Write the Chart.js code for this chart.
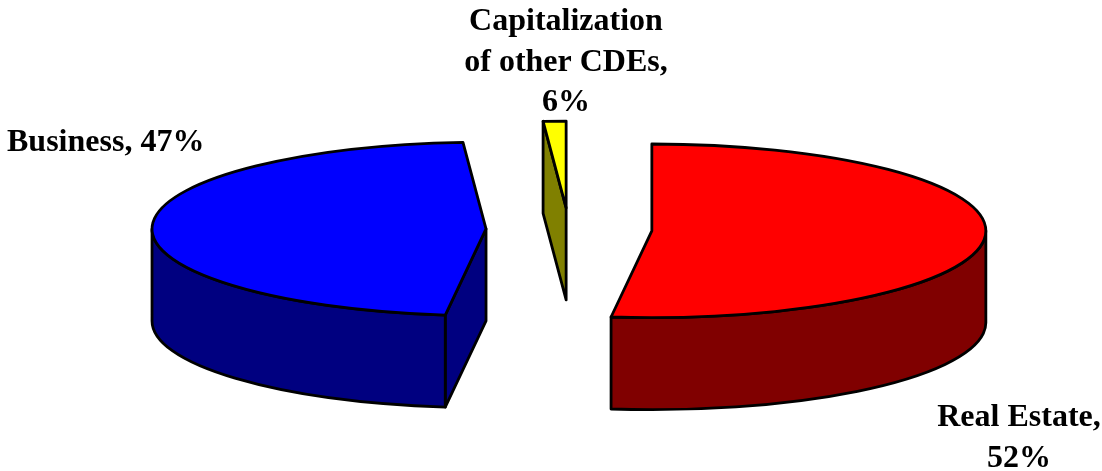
<!DOCTYPE html>
<html>
<head>
<meta charset="utf-8">
<style>html,body{margin:0;padding:0;background:#fff}canvas{display:block}</style>
<script src="https://cdn.jsdelivr.net/npm/chart.js@4"></script>
</head>
<body>
<canvas id="c" width="1102" height="471"></canvas>
<script>
const categories = ['Real Estate', 'Business', 'Capitalization of other CDEs'];
// Slice sizes as drawn in the picture (the sliver is far thinner than its printed label).
const sliceShares = [52, 47, 1.1];
const printedLabels = [['Real Estate,', '52%'], ['Business, 47%'], ['Capitalization', 'of other CDEs,', '6%']];
const topColors = ['#ff0000', '#0000ff', '#ffff00'];
const sideColors = ['#800000', '#000080', '#808000'];
const labelAnchors = [
  {x: 1019, y: 426, align: 'center'},
  {x: 7, y: 151, align: 'left'},
  {x: 566, y: 30, align: 'center'}
];
const lineGap = 40.5;
const R = 334, TILT = 0.26, DEPTH = 92, EXPLODE = 83;

function centerY(chart) { return (chart.chartArea.top + chart.chartArea.bottom) / 2; }
function geom(arc, cy0) {
  return {a: arc.startAngle, b: arc.endAngle, cx: arc.x, cy: cy0 + (arc.y - cy0) * TILT, r: arc.outerRadius};
}
function face(ctx, g, ang) {
  const px = g.cx + Math.cos(ang) * g.r, py = g.cy + Math.sin(ang) * g.r * TILT;
  ctx.beginPath();
  ctx.moveTo(g.cx, g.cy);
  ctx.lineTo(px, py);
  ctx.lineTo(px, py + DEPTH);
  ctx.lineTo(g.cx, g.cy + DEPTH);
  ctx.closePath();
  ctx.fill(); ctx.stroke();
}
const pie3d = {
  id: 'pie3d',
  afterDatasetsUpdate(chart) {
    // Explode each slice along its mid-angle, keeping its radius and sweep.
    chart.getDatasetMeta(0).data.forEach(arc => {
      const half = (arc.startAngle + arc.endAngle) / 2;
      arc.x += Math.cos(half) * EXPLODE;
      arc.y += Math.sin(half) * EXPLODE;
    });
  },
  beforeDatasetsDraw(chart) {
    const ctx = chart.ctx, meta = chart.getDatasetMeta(0), cy0 = centerY(chart);
    ctx.save();
    ctx.lineWidth = 2.8; ctx.strokeStyle = '#000'; ctx.lineJoin = 'round';
    meta.data.forEach((arc, i) => {
      const g = geom(arc, cy0);
      ctx.fillStyle = sideColors[i];
      if (Math.cos(g.a) < -1e-6) face(ctx, g, g.a);
      if (Math.cos(g.b) > 1e-6) face(ctx, g, g.b);
      const s = Math.max(g.a, 0), e = Math.min(g.b, Math.PI);
      if (e > s) {
        ctx.beginPath();
        ctx.ellipse(g.cx, g.cy, g.r, g.r * TILT, 0, s, e);
        ctx.ellipse(g.cx, g.cy + DEPTH, g.r, g.r * TILT, 0, e, s, true);
        ctx.closePath();
        ctx.fill(); ctx.stroke();
      }
    });
    ctx.restore();
    ctx.save();
    ctx.translate(0, cy0); ctx.scale(1, TILT); ctx.translate(0, -cy0);
  },
  afterDatasetsDraw(chart) {
    const ctx = chart.ctx, meta = chart.getDatasetMeta(0), cy0 = centerY(chart);
    ctx.restore();
    ctx.save();
    ctx.lineWidth = 2.8; ctx.strokeStyle = '#000'; ctx.lineJoin = 'round';
    meta.data.forEach(arc => {
      const g = geom(arc, cy0);
      ctx.beginPath();
      ctx.moveTo(g.cx, g.cy);
      ctx.ellipse(g.cx, g.cy, g.r, g.r * TILT, 0, g.a, g.b);
      ctx.closePath();
      ctx.stroke();
    });
    ctx.fillStyle = '#000';
    ctx.font = 'bold 32px "Liberation Serif"';
    ctx.textBaseline = 'alphabetic';
    printedLabels.forEach((lines, i) => {
      const p = labelAnchors[i];
      ctx.textAlign = p.align;
      lines.forEach((t, j) => ctx.fillText(t, p.x, p.y + j * lineGap));
    });
    ctx.restore();
  }
};
new Chart(document.getElementById('c'), {
  type: 'pie',
  data: {
    labels: categories,
    datasets: [{
      data: sliceShares,
      backgroundColor: topColors,
      borderWidth: 0
    }]
  },
  options: {
    responsive: false,
    animation: false,
    events: [],
    radius: R,
    layout: {padding: {left: 36, bottom: 12}},
    plugins: {legend: {display: false}, tooltip: {enabled: false}, title: {display: false}}
  },
  plugins: [pie3d]
});
</script>
</body>
</html>
